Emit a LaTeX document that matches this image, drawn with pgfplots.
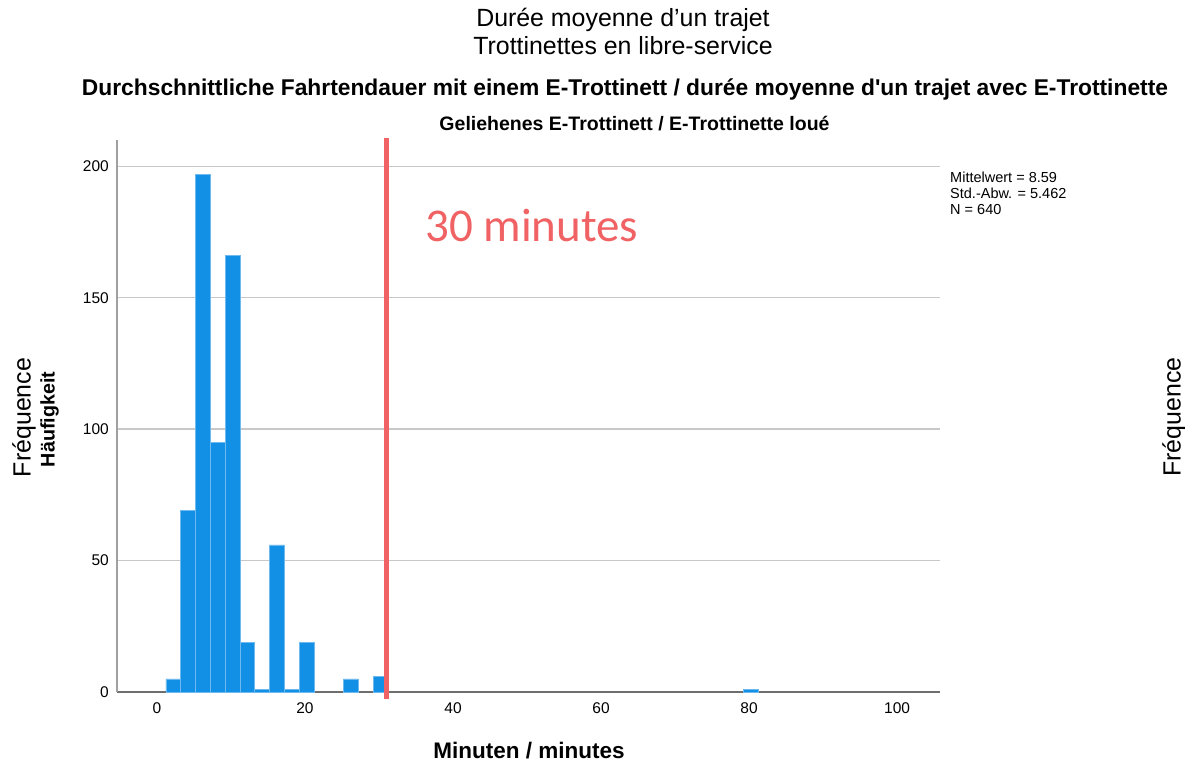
\documentclass[border=0pt]{standalone}
\usepackage{fontspec}
\setmainfont{Liberation Sans}
\newfontfamily\nomap{Liberation Sans}
\newfontfamily\calibri{Carlito}
\usepackage{pgfplots}
\pgfplotsset{compat=1.18}
\definecolor{barblue}{RGB}{18,144,230}
\definecolor{baredge}{RGB}{110,185,240}
\definecolor{redline}{RGB}{240,98,100}
\definecolor{gridgray}{RGB}{200,200,200}
\definecolor{spinegray}{RGB}{160,160,160}
\definecolor{basegray}{RGB}{110,110,110}
\begin{document}
\begin{tikzpicture}[x=1pt,y=1pt]
\path[use as bounding box] (0,0) rectangle (1185,764);
\begin{axis}[
  at={(117pt,72pt)}, anchor=south west,
  scale only axis, width=823pt, height=552pt,
  xmin=-5.4, xmax=105.8, ymin=0, ymax=210,
  axis x line*=bottom, axis y line*=left,
  x axis line style={-, draw=basegray, line width=2pt},
  y axis line style={-, draw=spinegray, line width=2pt},
  xtick={0,20,40,60,80,100}, ytick={0,50,100,150,200},
  major tick length=0pt,
  ymajorgrids, grid style={gridgray, line width=1.5pt},
  /pgf/number format/assume math mode=true,
  xticklabel style={font=\fontsize{15.5}{18}\selectfont, anchor=north, inner sep=0pt, yshift=-10pt},
  yticklabel style={font=\fontsize{15.5}{18}\selectfont, anchor=east, inner sep=0pt, xshift=-8pt},
  clip=false,
]
\addplot[ybar, bar width=2, bar shift=0pt, fill=barblue, draw=baredge, line width=0.6pt]
  coordinates {(2.2,5) (4.2,69) (6.2,197) (8.2,95) (10.2,166) (12.2,19) (14.2,1)
               (16.2,56) (18.2,1) (20.2,19) (26.2,5) (30.2,6) (80.2,1)};
\addplot[redline, line width=4.5pt] coordinates {(31,-2.7) (31,210.8)};
\end{axis}
% titles
\node[anchor=base, font=\fontsize{24.9}{29}\selectfont] at (623,737.3) {Durée moyenne d’un trajet};
\node[anchor=base, font=\fontsize{24.9}{29}\selectfont] at (623,709) {Trottinettes en libre-service};
\node[anchor=base, font=\nomap\bfseries\fontsize{22.8}{26}\selectfont] at (625,668.3) {Durchschnittliche Fahrtendauer mit einem E-Trottinett / durée moyenne d'un trajet avec E-Trottinette};
\node[anchor=base, font=\bfseries\fontsize{19.5}{23}\selectfont] at (634.5,633) {Geliehenes E-Trottinett / E-Trottinette loué};
% stats
\node[anchor=north west, align=left, inner sep=0pt, font=\fontsize{14.5}{16.3}\selectfont] at (950,592.5) {Mittelwert = 8.59\\Std.-Abw. = 5.462\\N = 640};
% y labels
\node[rotate=90, font=\fontsize{24.9}{29}\selectfont] at (24,346.5) {Fréquence};
\node[rotate=90, font=\bfseries\fontsize{19.7}{23}\selectfont] at (49.5,344.5) {Häufigkeit};
\node[rotate=90, font=\fontsize{24.9}{29}\selectfont] at (1174,347) {Fréquence};
% x label
\node[anchor=base, font=\bfseries\fontsize{22.5}{26}\selectfont] at (529,6) {Minuten / minutes};
% red annotation
\node[anchor=base west, inner sep=0pt, text=redline, font=\calibri\fontsize{47}{56}\selectfont] at (425,522.3) {30 minutes};
\end{tikzpicture}
\end{document}
